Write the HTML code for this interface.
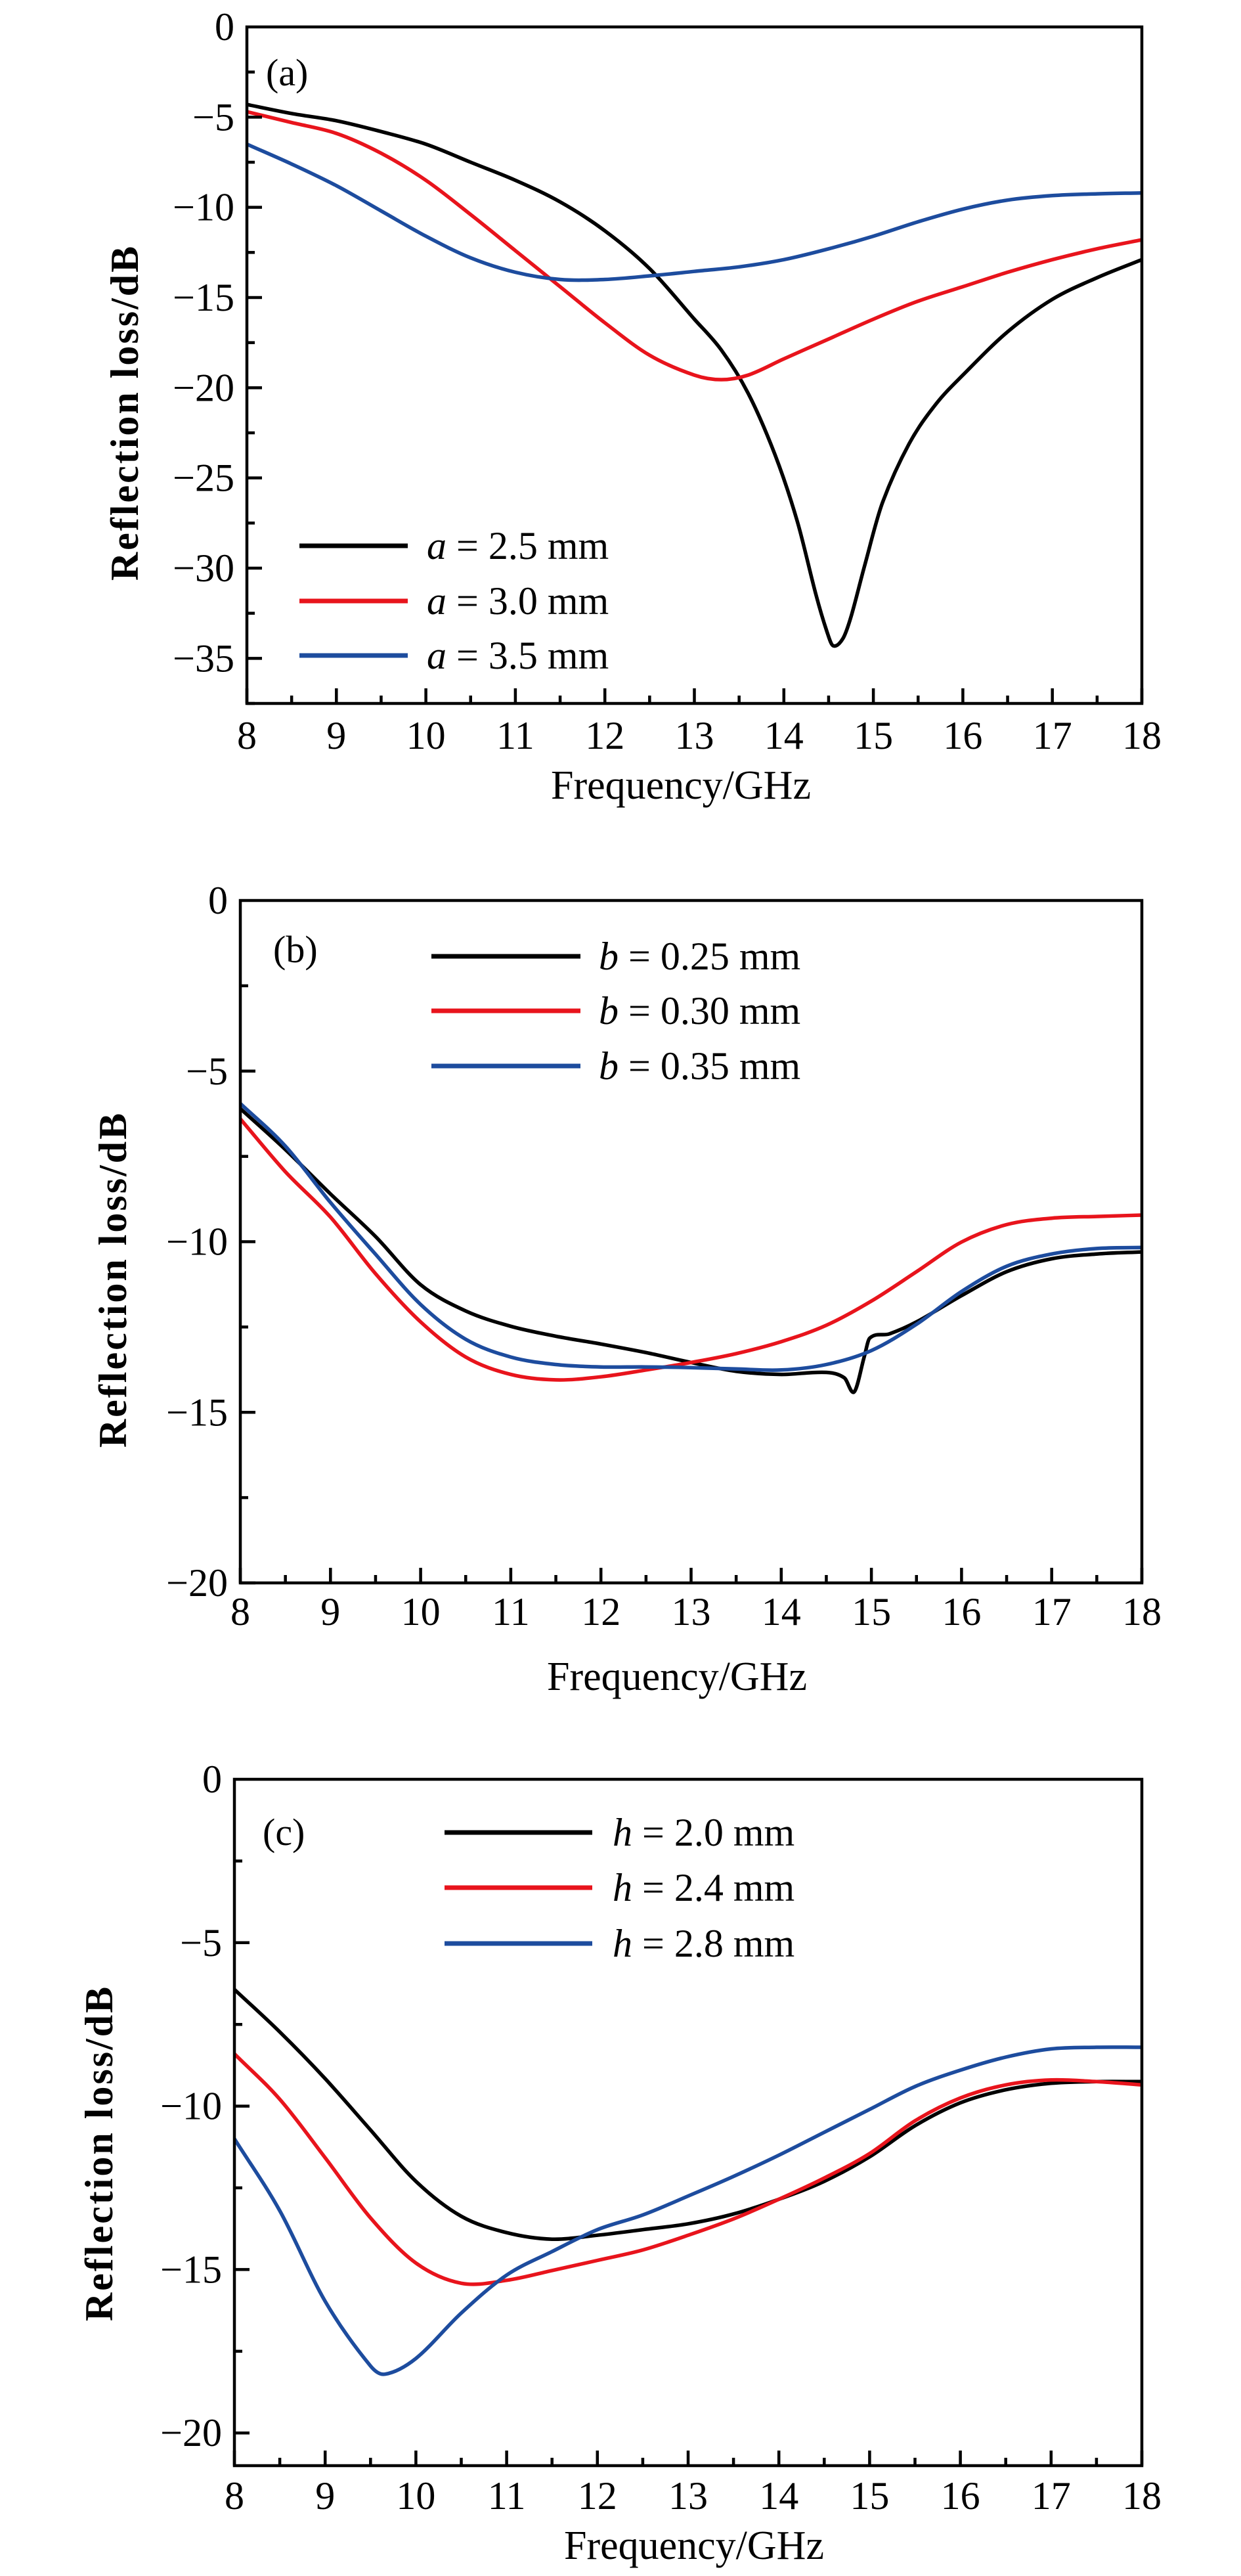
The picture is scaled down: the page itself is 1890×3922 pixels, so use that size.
<!DOCTYPE html>
<html><head><meta charset="utf-8">
<style>
html,body{margin:0;padding:0;background:#fff;}
svg{display:block;}
text{font-family:"Liberation Serif",serif;fill:#000;}
</style></head>
<body>
<svg id="fig" width="1890" height="3922" viewBox="0 0 1890 3922" xmlns="http://www.w3.org/2000/svg"></svg>
<script>
// ---------- Panel (a) data ----------
const aFreqBlack = [8,8.5,9,9.5,10,10.5,11,11.5,12,12.5,13,13.3,13.6,13.9,14.15,14.36,14.48,14.55,14.66,14.75,14.9,15.1,15.4,15.7,16,16.5,17,17.5,18];
const aBlack     = [-4.3,-4.8,-5.2,-5.8,-6.5,-7.5,-8.5,-9.7,-11.3,-13.4,-16.2,-17.9,-20.3,-23.7,-27.4,-31.5,-33.5,-34.3,-33.9,-32.7,-29.9,-26.4,-23.1,-20.9,-19.3,-16.9,-15.1,-13.9,-12.9];
const aFreqRed   = [8,8.5,9,9.5,10,10.5,11,11.5,12,12.5,13,13.3,13.6,14,14.5,15,15.5,16,16.5,17,17.5,18];
const aRed       = [-4.7,-5.3,-5.9,-7.0,-8.5,-10.4,-12.4,-14.4,-16.4,-18.2,-19.3,-19.55,-19.3,-18.4,-17.3,-16.2,-15.2,-14.4,-13.6,-12.9,-12.3,-11.8];
const aFreqBlue  = [8,8.5,9,9.5,10,10.5,11,11.5,12,12.5,13,13.5,14,14.5,15,15.5,16,16.5,17,17.5,18];
const aBlue      = [-6.5,-7.6,-8.8,-10.2,-11.6,-12.8,-13.6,-14.0,-14.0,-13.8,-13.55,-13.3,-12.9,-12.3,-11.6,-10.8,-10.1,-9.6,-9.35,-9.25,-9.2];
// ---------- Panel (b) data ----------
const bFreqBlack = [8,8.5,9,9.5,10,10.5,11,11.5,12,12.5,13,13.5,14,14.5,14.7,14.81,14.92,14.98,15.2,15.5,16,16.5,17,17.5,18];
const bBlack     = [-6.1,-7.3,-8.6,-9.85,-11.26,-12.03,-12.48,-12.77,-13.0,-13.25,-13.54,-13.8,-13.89,-13.83,-13.99,-14.4,-13.38,-12.83,-12.7,-12.35,-11.58,-10.88,-10.5,-10.36,-10.3];
const bFreq      = [8,8.5,9,9.5,10,10.5,11,11.5,12,12.5,13,13.5,14,14.5,15,15.5,16,16.5,17,17.5,18];
const bRed       = [-6.4,-7.95,-9.28,-10.94,-12.35,-13.38,-13.89,-14.05,-13.96,-13.76,-13.54,-13.28,-12.93,-12.45,-11.74,-10.88,-10.01,-9.5,-9.31,-9.26,-9.22];
const bBlue      = [-5.95,-7.2,-8.85,-10.37,-11.84,-12.86,-13.38,-13.6,-13.67,-13.67,-13.69,-13.73,-13.76,-13.6,-13.19,-12.42,-11.46,-10.72,-10.36,-10.2,-10.17];
// ---------- Panel (c) data ----------
const cFreq      = [8,8.5,9,9.5,10,10.5,11,11.5,12,12.5,13,13.5,14,14.5,15,15.5,16,16.5,17,17.5,18];
const cBlack     = [-6.43,-7.73,-9.16,-10.73,-12.3,-13.37,-13.87,-14.07,-13.95,-13.78,-13.6,-13.3,-12.85,-12.3,-11.55,-10.6,-9.9,-9.5,-9.3,-9.25,-9.25];
const cRed       = [-8.4,-9.79,-11.58,-13.42,-14.8,-15.42,-15.33,-15.03,-14.72,-14.4,-13.95,-13.45,-12.85,-12.2,-11.45,-10.45,-9.75,-9.35,-9.2,-9.25,-9.35];
const cFreqBlue  = [8,8.5,9,9.5,9.66,10,10.5,11,11.5,12,12.5,13,13.5,14,14.5,15,15.5,16,16.5,17,17.5,18];
const cBlue      = [-11.0,-13.2,-15.97,-17.95,-18.2,-17.72,-16.33,-15.17,-14.45,-13.78,-13.33,-12.75,-12.15,-11.5,-10.8,-10.1,-9.4,-8.9,-8.5,-8.25,-8.2,-8.2];
// ---------- tick labels ----------
const xTickLabels = ["8","9","10","11","12","13","14","15","16","17","18"];
const aYTicks = [0,-5,-10,-15,-20,-25,-30,-35];
const bYTicks = [0,-5,-10,-15,-20];
const cYTicks = [0,-5,-10,-15,-20];
const aLegend = ["2.5","3.0","3.5"];
const bLegend = ["0.25","0.30","0.35"];
const cLegend = ["2.0","2.4","2.8"];

const NS = "http://www.w3.org/2000/svg";
const svg = document.getElementById('fig');
const COLORS = ["#000000","#e8141c","#1d4c9e"];

function mk(tag, attrs, parent){
  const e = document.createElementNS(NS, tag);
  for (const k in attrs) e.setAttribute(k, attrs[k]);
  (parent||svg).appendChild(e);
  return e;
}
function smoothPath(pts){
  let d = "M"+pts[0][0].toFixed(1)+","+pts[0][1].toFixed(1);
  for (let i=0;i<pts.length-1;i++){
    const p0=pts[Math.max(0,i-1)], p1=pts[i], p2=pts[i+1], p3=pts[Math.min(pts.length-1,i+2)];
    const h = p2[0]-p1[0];
    // tangent scaled to segment width to avoid overshoot on non-uniform spacing
    const m1 = (p2[1]-p0[1])/((p2[0]-p0[0])||1);
    const m2 = (p3[1]-p1[1])/((p3[0]-p1[0])||1);
    const c1=[p1[0]+h/3, p1[1]+m1*h/3];
    const c2=[p2[0]-h/3, p2[1]-m2*h/3];
    d+=" C"+c1[0].toFixed(1)+","+c1[1].toFixed(1)+" "+c2[0].toFixed(1)+","+c2[1].toFixed(1)+" "+p2[0].toFixed(1)+","+p2[1].toFixed(1);
  }
  return d;
}

function panel(cfg){
  const g = mk('g', {});
  
  
  const L=cfg.left, R=cfg.right, T=cfg.top, B=cfg.bottom;
  const xS = f => L + (f-8)/10*(R-L);
  const yS = v => T + (0 - v)/(0 - cfg.ymin)*(B-T);
  const clipId = 'clip-'+cfg.id;
  const cp = mk('clipPath', {id:clipId}, g);
  mk('rect', {x:L, y:T, width:R-L, height:B-T}, cp);
  cfg.series.forEach((s,i)=>{
    const pts = s.x.map((f,j)=>[xS(f), yS(s.y[j])]);
    const p = mk('path', {d:smoothPath(pts), fill:'none', stroke:COLORS[i], 'stroke-width':5.5, 'stroke-linejoin':'round', 'clip-path':'url(#'+clipId+')'}, g);
    
    
  });
  const fr = mk('rect', {x:L, y:T, width:R-L, height:B-T, fill:'none', stroke:'#000', 'stroke-width':4.5}, g);
  
  
  for (let k=0;k<=20;k++){
    const f = 8 + k*0.5;
    const x = xS(f);
    const len = (k%2===0)?23:12;
    mk('line', {x1:x, y1:B, x2:x, y2:B-len, stroke:'#000', 'stroke-width':4.5}, g);
  }
  xTickLabels.forEach((lab,i)=>{
    const t = mk('text', {x:xS(8+i), y:cfg.xLabelY, 'font-size':60, 'text-anchor':'middle'}, g);
    t.textContent = lab;
    
    
  });
  for (let v=0; v>=cfg.ymin; v-=2.5){
    const y = yS(v);
    const major = Math.abs(v%5)<1e-9;
    if (v===0) continue;
    mk('line', {x1:L, y1:y, x2:L+(major?23:12), y2:y, stroke:'#000', 'stroke-width':4.5}, g);
  }
  cfg.yTicks.forEach(v=>{
    const t = mk('text', {x:L-19, y:yS(v)+20, 'font-size':60, 'text-anchor':'end'}, g);
    t.textContent = v===0 ? "0" : "\u2212"+Math.abs(v);
    
    
  });
  const xt = mk('text', {x:cfg.xTitleX, y:cfg.xTitleY, 'font-size':62, 'text-anchor':'middle'}, g);
  xt.textContent = "Frequency/GHz";
  
  
  const yt = mk('text', {x:0, y:0, 'font-size':60, 'font-weight':'bold', 'letter-spacing':3, 'text-anchor':'middle', transform:'translate('+(cfg.yTitleX+20)+','+cfg.yTitleY+') rotate(-90)'}, g);
  yt.textContent = "Reflection loss/dB";
  
  
  const pl = mk('text', {x:cfg.labelX, y:cfg.labelY, 'font-size':58}, g);
  pl.textContent = "("+cfg.id+")";
  
  
  cfg.legend.forEach((val,i)=>{
    const y = cfg.legY[i];
    const lg = mk('g', {}, g);
    
    
    mk('line', {x1:cfg.legX1, y1:y, x2:cfg.legX2, y2:y, stroke:COLORS[i], 'stroke-width':7}, lg);
    const t = mk('text', {x:cfg.legTextX, y:y+20, 'font-size':60}, lg);
    const it = mk('tspan', {'font-style':'italic'}, t);
    it.textContent = cfg.sym;
    const rest = mk('tspan', {}, t);
    rest.textContent = " = "+val+" mm";
  });
}

panel({id:'a', left:376, right:1739, top:41, bottom:1071, ymin:-37.5, yTicks:aYTicks,
  xLabelY:1140, xTitleX:1037, xTitleY:1216, yTitleX:190, yTitleY:628,
  labelX:405, labelY:130, sym:'a', legend:aLegend,
  legX1:456, legX2:621, legY:[831,915,998], legTextX:650,
  series:[{name:'a-2-5', x:aFreqBlack, y:aBlack},{name:'a-3-0', x:aFreqRed, y:aRed},{name:'a-3-5', x:aFreqBlue, y:aBlue}]});

panel({id:'b', left:366, right:1739, top:1371, bottom:2410, ymin:-20, yTicks:bYTicks,
  xLabelY:2474, xTitleX:1031, xTitleY:2573, yTitleX:172, yTitleY:1948,
  labelX:416, labelY:1465, sym:'b', legend:bLegend,
  legX1:657, legX2:884, legY:[1456,1539,1623], legTextX:912,
  series:[{name:'b-0-25', x:bFreqBlack, y:bBlack},{name:'b-0-30', x:bFreq, y:bRed},{name:'b-0-35', x:bFreq, y:bBlue}]});

panel({id:'c', left:357, right:1739, top:2709, bottom:3754, ymin:-21, yTicks:cYTicks,
  xLabelY:3820, xTitleX:1057, xTitleY:3896, yTitleX:151, yTitleY:3278,
  labelX:400, labelY:2809, sym:'h', legend:cLegend,
  legX1:677, legX2:902, legY:[2790,2874,2959], legTextX:933,
  series:[{name:'h-2-0', x:cFreq, y:cBlack},{name:'h-2-4', x:cFreq, y:cRed},{name:'h-2-8', x:cFreqBlue, y:cBlue}]});
</script>
</body></html>
